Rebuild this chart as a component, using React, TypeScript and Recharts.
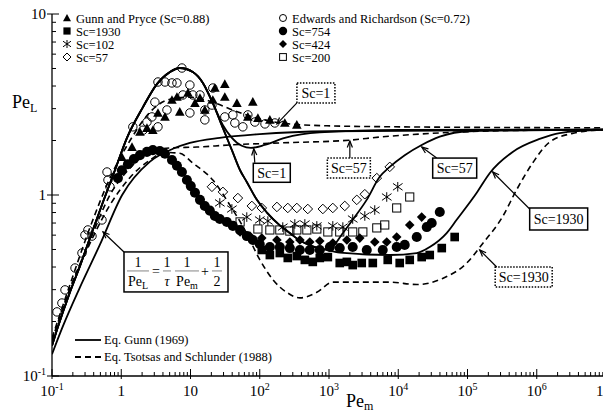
import React from 'react';
import { ComposedChart, Line, Scatter, XAxis, YAxis, ReferenceDot } from 'recharts';

type Pt = [number, number];

// Pe_m, Pe_L pairs
const gunnSc1: Pt[] = [[0.1,0.147],[0.118,0.18],[0.18,0.288],[0.254,0.406],[0.353,0.578],[0.545,0.915],[0.81,1.37],[1.21,2.07],[2.06,3.06],[3.27,4.1],[5.05,4.78],[7.0,5.03],[10.8,4.78],[15.1,4.16],[21,3.22],[29.4,2.43],[39.6,2.07],[55,1.87],[74.5,1.82],[118,1.89],[230,2.07],[736,2.22],[10500,2.29],[1e7,2.3]];
const gunnSc57: Pt[] = [[0.1,0.147],[0.118,0.18],[0.18,0.288],[0.254,0.406],[0.353,0.578],[0.545,0.915],[0.81,1.37],[1.21,2.07],[2.06,3.06],[3.27,4.1],[5.05,4.78],[7.0,5.03],[10.8,4.78],[15.1,4.16],[21,3.22],[29.4,2.34],[39.6,1.77],[52,1.37],[65,1.18],[91,0.94],[127,0.8],[195,0.68],[272,0.616],[380,0.56],[583,0.52],[869,0.5],[1135,0.52],[1585,0.616],[2200,0.73],[3500,0.94],[5400,1.26],[7540,1.43],[12400,1.66],[21800,1.89],[39800,2.1],[107000,2.25],[1e7,2.3]];
const gunnSc1930: Pt[] = [[0.1,0.147],[0.118,0.18],[0.18,0.288],[0.254,0.406],[0.353,0.578],[0.545,0.915],[0.81,1.37],[1.21,2.07],[2.06,3.06],[3.27,4.1],[5.05,4.78],[7.0,5.03],[10.8,4.78],[15.1,4.16],[21,3.22],[29.4,2.34],[39.6,1.77],[52,1.37],[65,1.18],[91,0.94],[127,0.8],[195,0.68],[272,0.616],[380,0.56],[583,0.52],[869,0.5],[1430,0.48],[7540,0.466],[18500,0.478],[28500,0.516],[50000,0.616],[69800,0.73],[136000,1.03],[209000,1.32],[449000,1.73],[1.1e6,2.04],[2.14e6,2.2],[1e7,2.3]];
const axialLimit: Pt[] = [[0.1,0.132],[0.14,0.184],[0.254,0.31],[0.49,0.53],[1.03,1.0],[2.6,1.53],[5.57,1.8],[9.8,1.94],[26.5,2.07],[100,2.17],[1030,2.25],[1e7,2.3]];
const tsotsasSc1: Pt[] = [[0.1,0.162],[0.18,0.316],[0.353,0.66],[0.687,1.24],[1.34,2.0],[2.6,2.87],[5.05,3.38],[9.8,3.47],[19,3.3],[37,2.99],[72,2.73],[140,2.56],[272,2.47],[1030,2.41],[10500,2.38],[1e7,2.35]];
const tsotsasSc57: Pt[] = [[0.1,0.157],[0.18,0.3],[0.353,0.56],[0.687,1.0],[1.34,1.41],[2.6,1.73],[5.05,1.82],[12.4,1.84],[37,1.89],[195,1.94],[2000,2.01],[5400,2.09],[20400,2.17],[150000,2.25],[1e7,2.3]];
const tsotsasSc1930: Pt[] = [[0.1,0.157],[0.18,0.3],[0.353,0.54],[0.687,0.88],[1.34,1.25],[2.6,1.56],[4.28,1.72],[7.0,1.7],[10.8,1.5],[21,1.21],[37,0.88],[61,0.64],[100,0.44],[155,0.34],[245,0.29],[380,0.27],[667,0.29],[1135,0.33],[2520,0.33],[7540,0.33],[18500,0.32],[43800,0.346],[97000,0.42],[166000,0.54],[322000,0.76],[513000,1.07],[870000,1.5],[1.53e6,1.96],[3.5e6,2.2],[1e7,2.3]];

const gunnPryce: Pt[] = [[1.02,1.62],[1.43,1.84],[1.86,2.23],[2.35,2.34],[2.86,2.28],[3.39,2.84],[4.28,2.7],[5.4,3.35],[6.37,3.48],[7.0,2.88],[9.2,3.67],[11.6,3.22],[13.7,3.43],[16.1,2.95],[21,3.35],[22.5,3.9],[31.3,4.1],[31.3,3.48],[46.8,3.22],[67.3,2.7],[79.4,3.27],[94,2.66],[140,2.6],[230,2.5],[343,2.44]];
const edwardsRichardson: Pt[] = [[0.118,0.226],[0.139,0.253],[0.154,0.299],[0.215,0.395],[0.271,0.478],[0.299,0.601],[0.33,0.641],[0.378,0.593],[0.527,0.728],[0.623,1.34],[0.643,1.21],[0.687,1.11],[1.47,2.38],[2.06,2.28],[2.35,2.53],[2.77,2.7],[3.06,3.26],[3.39,4.21],[3.39,2.38],[4.28,4.21],[4.57,2.95],[5.4,4.16],[6.37,4.16],[7.52,5.03],[7.76,3.57],[9.8,4.05],[10.8,3.57],[9.8,2.84],[13.7,3.57],[16.1,2.95],[16.1,2.6],[20.4,3.14],[21,3.9],[31.3,2.7],[40.9,2.77],[43.7,2.5],[57,2.38],[67.3,2.77],[85,2.53],[119,2.47],[165,2.5]];
const sc1930: Pt[] = [[107,0.497],[140,0.466],[195,0.478],[254,0.449],[343,0.46],[448,0.438],[583,0.427],[736,0.449],[962,0.454],[1430,0.421],[1810,0.427],[2200,0.41],[2970,0.421],[4290,0.421],[7050,0.438],[10500,0.421],[14650,0.438],[21800,0.454],[28500,0.466],[42500,0.509],[65300,0.586]];
const sc754: Pt[] = [[0.895,1.24],[1.02,1.37],[1.25,1.48],[1.52,1.58],[1.86,1.66],[2.35,1.73],[2.86,1.77],[3.61,1.75],[4.28,1.69],[5.4,1.56],[6.37,1.45],[7.52,1.34],[8.87,1.21],[10.1,1.12],[11.6,1.03],[13.7,0.94],[16.1,0.87],[19,0.82],[22.5,0.766],[26.5,0.737],[33.5,0.71],[40.9,0.675],[52,0.64],[65,0.593],[79.4,0.564],[100,0.536],[140,0.516],[195,0.516],[272,0.509],[380,0.497],[528,0.497],[736,0.497],[1030,0.516],[1430,0.509],[2200,0.516],[3510,0.497],[5970,0.497],[9500,0.516],[12400,0.53],[18500,0.586],[25800,0.665],[30400,0.7],[39800,0.805]];
const sc424: Pt[] = [[52,0.625],[72,0.593],[107,0.578],[177,0.564],[272,0.55],[380,0.564],[528,0.55],[736,0.557],[1135,0.543],[1810,0.564],[2780,0.578],[4580,0.55],[6820,0.55],[9500,0.586],[14650,0.683],[21800,0.755]];
const sc102: Pt[] = [[26.5,0.904],[39.6,0.837],[65,0.755],[100,0.728],[131,0.718],[215,0.665],[321,0.692],[448,0.692],[667,0.675],[1135,0.675],[1585,0.665],[2200,0.737],[3290,0.766],[4580,0.826],[6820,0.975],[9840,1.11]];
const sc57: Pt[] = [[20.4,1.11],[29.4,1.04],[48.3,0.962],[76.9,0.87],[107,0.848],[177,0.859],[254,0.848],[343,0.848],[494,0.837],[815,0.837],[1135,0.848],[1690,0.87],[2520,0.94],[3290,1.01],[4900,1.24],[7540,1.43]];
const sc200: Pt[] = [[52,0.71],[94,0.649],[140,0.641],[195,0.641],[272,0.632],[343,0.641],[479,0.641],[667,0.649],[962,0.625],[1430,0.625],[2200,0.625],[3080,0.625],[4900,0.658],[6380,0.683],[9500,0.848],[14650,0.975]];

const X_MAJOR = [0.1, 1, 10, 100, 1e3, 1e4, 1e5, 1e6, 1e7];
const X_LABELS: [string, string][] = [['10', '-1'], ['1', ''], ['10', ''], ['10', '2'], ['10', '3'], ['10', '4'], ['10', '5'], ['10', '6'], ['10', '7']];
const Y_MAJOR = [0.1, 1, 10];
const Y_LABELS: [string, string][] = [['10', '-1'], ['1', ''], ['10', '']];

const SERIF = "Tinos, 'Liberation Serif', 'Times New Roman', Times, 'Nimbus Roman', 'FreeSerif', 'Noto Serif', 'DejaVu Serif', serif";
const F = { fontFamily: SERIF };
const rows = (pts: Pt[]) => pts.map(([x, y]) => ({ x, y }));
const withMinors = (majors: number[]) =>
  majors.concat(majors.slice(0, -1).flatMap((m) => [2, 3, 4, 5, 6, 7, 8, 9].map((k) => m * k))).sort((a, b) => a - b);

type Kind = 'triangle' | 'square' | 'star' | 'diamond' | 'circle' | 'dot' | 'fdiamond' | 'osquare';

function Marker({ kind, cx, cy, s = 4.8 }: { kind: Kind; cx: number; cy: number; s?: number }) {
  const st = { stroke: '#000', strokeWidth: 1 };
  switch (kind) {
    case 'triangle':
      return <path d={`M${cx},${cy - s} L${cx + s},${cy + s * 0.8} L${cx - s},${cy + s * 0.8} Z`} fill="#000" />;
    case 'square':
      return <rect x={cx - s * 0.9} y={cy - s * 0.9} width={s * 1.8} height={s * 1.8} fill="#000" />;
    case 'osquare':
      return <rect x={cx - s * 0.85} y={cy - s * 0.85} width={s * 1.7} height={s * 1.7} fill="none" {...st} />;
    case 'circle':
      return <circle cx={cx} cy={cy} r={s * 0.88} fill="none" {...st} />;
    case 'dot':
      return <circle cx={cx} cy={cy} r={s * 1.05} fill="#000" />;
    case 'diamond':
      return <path d={`M${cx},${cy - s} L${cx + s},${cy} L${cx},${cy + s} L${cx - s},${cy} Z`} fill="none" {...st} />;
    case 'fdiamond':
      return <path d={`M${cx},${cy - s} L${cx + s},${cy} L${cx},${cy + s} L${cx - s},${cy} Z`} fill="#000" />;
    case 'star':
      return (
        <path
          d={`M${cx},${cy - s} L${cx},${cy + s} M${cx - s},${cy - s * 0.7} L${cx + s},${cy + s * 0.7} M${cx - s},${cy + s * 0.7} L${cx + s},${cy - s * 0.7}`}
          fill="none"
          {...st}
        />
      );
  }
  return null;
}

const XTick = (p: any) => {
  const { x, y, payload } = p;
  const i = X_MAJOR.indexOf(payload.value);
  const ay = y - 8;
  if (i < 0) return <line x1={x} x2={x} y1={ay} y2={ay - 4} stroke="#000" />;
  const [base, sup] = X_LABELS[i];
  return (
    <g>
      <line x1={x} x2={x} y1={ay + 3} y2={ay - 7} stroke="#000" />
      <text x={x} y={ay + 20} textAnchor="middle" fontSize={15} style={F} fill="#000">
        {base}
        {sup && <tspan dy={-6} fontSize={10}>{sup}</tspan>}
      </text>
    </g>
  );
};

const YTick = (p: any) => {
  const { x, y, payload } = p;
  const i = Y_MAJOR.indexOf(payload.value);
  const ax = x + 8;
  if (i < 0) return <line x1={ax} x2={ax + 4} y1={y} y2={y} stroke="#000" />;
  const [base, sup] = Y_LABELS[i];
  return (
    <g>
      <line x1={ax - 5} x2={ax + 7} y1={y} y2={y} stroke="#000" />
      <text x={ax - 6} y={y + 5} textAnchor="end" fontSize={15} style={F} fill="#000">
        {base}
        {sup && <tspan dy={-6} fontSize={10}>{sup}</tspan>}
      </text>
    </g>
  );
};

type Note = { x: number; y: number; text: string; dx: number; dy: number; w: number; h: number; ex: number; ey: number; dotted?: boolean };
const NOTES: Note[] = [
  { x: 177, y: 2.47, text: 'Sc=1', dx: 39, dy: -31, w: 38, h: 20, ex: 20, ey: -21, dotted: true },
  { x: 82, y: 1.8, text: 'Sc=1', dx: 18, dy: 24, w: 37, h: 19, ex: 1, ey: 14 },
  { x: 2000, y: 1.99, text: 'Sc=57', dx: -1, dy: 27, w: 43, h: 20, ex: 0, ey: 17, dotted: true },
  { x: 21800, y: 1.84, text: 'Sc=57', dx: 33, dy: 21, w: 44, h: 20, ex: 15, ey: 11 },
  { x: 231000, y: 1.34, text: 'Sc=1930', dx: 66, dy: 47, w: 58, h: 22, ex: 37, ey: 37 },
  { x: 150000, y: 0.497, text: 'Sc=1930', dx: 44, dy: 27, w: 57, h: 20, ex: 17, ey: 17, dotted: true },
];

function Arrow({ x1, y1, x2, y2 }: { x1: number; y1: number; x2: number; y2: number }) {
  // arrow from (x1,y1) to tip (x2,y2)
  const a = Math.atan2(y2 - y1, x2 - x1);
  const L = 7;
  const w = 0.38;
  return (
    <g stroke="#000" strokeWidth={1.2} fill="none">
      <line x1={x1} y1={y1} x2={x2} y2={y2} />
      <path d={`M${x2 - L * Math.cos(a - w)},${y2 - L * Math.sin(a - w)} L${x2},${y2} L${x2 - L * Math.cos(a + w)},${y2 - L * Math.sin(a + w)}`} />
    </g>
  );
}

const noteShape = (n: Note) => (p: any) => {
  const { cx, cy } = p;
  const bx = cx + n.dx;
  const by = cy + n.dy;
  return (
    <g>
      <Arrow x1={cx + n.ex} y1={cy + n.ey} x2={cx} y2={cy} />
      <rect x={bx - n.w / 2} y={by - n.h / 2} width={n.w} height={n.h} fill="#fff" stroke="#000" strokeWidth={1.5} strokeDasharray={n.dotted ? '1.5 1.5' : undefined} />
      <text x={bx} y={by + 5} textAnchor="middle" fontSize={14} style={F} fill="#000">{n.text}</text>
    </g>
  );
};

function Frac({ x, y, num, den, w }: { x: number; y: number; num: React.ReactNode; den: React.ReactNode; w: number }) {
  return (
    <g>
      <text x={x} y={y - 5} textAnchor="middle" fontSize={14} style={F}>{num}</text>
      <line x1={x - w / 2} x2={x + w / 2} y1={y - 1} y2={y - 1} stroke="#666" strokeWidth={0.8} />
      <text x={x} y={y + 14} textAnchor="middle" fontSize={14} style={F}>{den}</text>
    </g>
  );
}

const formulaShape = (p: any) => {
  const { cx, cy } = p;
  const bx = cx + 73;
  const by = cy + 40;
  return (
    <g>
      <Arrow x1={cx + 21} y1={cy + 20} x2={cx} y2={cy} />
      <rect x={bx - 52} y={by - 20} width={104} height={40} fill="#fff" stroke="#000" strokeWidth={1.5} />
      <Frac x={bx - 38} y={by} w={22} num="1" den={<>Pe<tspan dy={3} fontSize={10}>L</tspan></>} />
      <text x={bx - 20} y={by + 4} textAnchor="middle" fontSize={14} style={F}>=</text>
      <Frac x={bx - 9} y={by} w={8} num="1" den={<tspan fontStyle="italic">τ</tspan>} />
      <Frac x={bx + 11} y={by} w={24} num="1" den={<>Pe<tspan dy={3} fontSize={10}>m</tspan></>} />
      <text x={bx + 29} y={by + 4} textAnchor="middle" fontSize={14} style={F}>+</text>
      <Frac x={bx + 41} y={by} w={10} num="1" den="2" />
    </g>
  );
};

const TOP_LEGEND: { kind: Kind; label: string; col: number; row: number }[] = [
  { kind: 'triangle', label: 'Gunn and Pryce (Sc=0.88)', col: 0, row: 0 },
  { kind: 'square', label: 'Sc=1930', col: 0, row: 1 },
  { kind: 'star', label: 'Sc=102', col: 0, row: 2 },
  { kind: 'diamond', label: 'Sc=57', col: 0, row: 3 },
  { kind: 'circle', label: 'Edwards and Richardson (Sc=0.72)', col: 1, row: 0 },
  { kind: 'dot', label: 'Sc=754', col: 1, row: 1 },
  { kind: 'fdiamond', label: 'Sc=424', col: 1, row: 2 },
  { kind: 'osquare', label: 'Sc=200', col: 1, row: 3 },
];

const SCATTERS: { pts: Pt[]; kind: Kind }[] = [
  { pts: gunnPryce, kind: 'triangle' },
  { pts: edwardsRichardson, kind: 'circle' },
  { pts: sc57, kind: 'diamond' },
  { pts: sc102, kind: 'star' },
  { pts: sc200, kind: 'osquare' },
  { pts: sc424, kind: 'fdiamond' },
  { pts: sc754, kind: 'dot' },
  { pts: sc1930, kind: 'square' },
];

export default function App() {
  const lineProps = { dataKey: 'y', type: 'monotone' as const, stroke: '#000', dot: false, isAnimationActive: false, activeDot: false };
  return (
    <div style={{ position: 'absolute', left: 0, top: 0, width: 603, height: 412, overflow: 'hidden', background: '#fff', fontFamily: SERIF }}>
      <ComposedChart width={640} height={412} margin={{ top: 14, right: 34, left: 0, bottom: 0 }}>
        <XAxis
          dataKey="x"
          type="number"
          scale="log"
          domain={[0.1, 1e7]}
          allowDataOverflow
          ticks={withMinors(X_MAJOR)}
          interval={0}
          tickSize={6}
          tickMargin={2}
          tickLine={false}
          tick={<XTick />}
          height={36}
          axisLine={{ stroke: '#000', strokeWidth: 1.3 }}
        />
        <XAxis xAxisId="top" orientation="top" dataKey="x" type="number" scale="log" domain={[0.1, 1e7]} allowDataOverflow height={0} tick={false} tickLine={false} axisLine={{ stroke: '#000', strokeWidth: 1.3 }} />
        <YAxis
          dataKey="y"
          type="number"
          scale="log"
          domain={[0.1, 10]}
          allowDataOverflow
          ticks={withMinors(Y_MAJOR)}
          interval={0}
          tickSize={6}
          tickMargin={2}
          tickLine={false}
          tick={<YTick />}
          width={52}
          axisLine={{ stroke: '#000', strokeWidth: 1.3 }}
        />
        <Line data={rows(gunnSc1)} {...lineProps} strokeWidth={1.8} />
        <Line data={rows(gunnSc57)} {...lineProps} strokeWidth={1.8} />
        <Line data={rows(gunnSc1930)} {...lineProps} strokeWidth={1.8} />
        <Line data={rows(axialLimit)} {...lineProps} strokeWidth={1.8} />
        <Line data={rows(tsotsasSc1)} {...lineProps} strokeWidth={1.6} strokeDasharray="6 4" />
        <Line data={rows(tsotsasSc57)} {...lineProps} strokeWidth={1.6} strokeDasharray="6 4" />
        <Line data={rows(tsotsasSc1930)} {...lineProps} strokeWidth={1.6} strokeDasharray="6 4" />
        {SCATTERS.map((s, i) => (
          <Scatter key={i} data={rows(s.pts)} dataKey="y" isAnimationActive={false} shape={(p: any) => <Marker kind={s.kind} cx={p.cx} cy={p.cy} />} />
        ))}
        {NOTES.map((n, i) => (
          <ReferenceDot key={i} x={n.x} y={n.y} r={0} ifOverflow="visible" shape={noteShape(n)} />
        ))}
        <ReferenceDot x={0.545} y={0.625} r={0} ifOverflow="visible" shape={formulaShape} />
      </ComposedChart>
      <svg width={603} height={412} style={{ position: 'absolute', left: 0, top: 0, pointerEvents: 'none', fontFamily: SERIF }}>
        {TOP_LEGEND.map((e, i) => {
          const mx = e.col === 0 ? 67 : 283;
          const my = 18 + e.row * 13;
          return (
            <g key={i}>
              <Marker kind={e.kind} cx={mx} cy={my} s={4} />
              <text x={mx + 9} y={my + 4.5} fontSize={12.5} style={F} fill="#000">{e.label}</text>
            </g>
          );
        })}
        <line x1={75} x2={101} y1={340} y2={340} stroke="#000" strokeWidth={1.8} />
        <text x={104} y={344} fontSize={12.5} style={F} fill="#000">Eq. Gunn (1969)</text>
        <line x1={75} x2={101} y1={357} y2={357} stroke="#000" strokeWidth={1.8} strokeDasharray="6 4" />
        <text x={104} y={361} fontSize={12.5} style={F} fill="#000">Eq. Tsotsas and Schlunder (1988)</text>
        <text x={12} y={108} fontSize={18} style={F} fill="#000">Pe<tspan dy={4} fontSize={12}>L</tspan></text>
        <text x={346} y={407} fontSize={18} style={F} fill="#000">Pe<tspan dy={3} fontSize={12}>m</tspan></text>
      </svg>
    </div>
  );
}
